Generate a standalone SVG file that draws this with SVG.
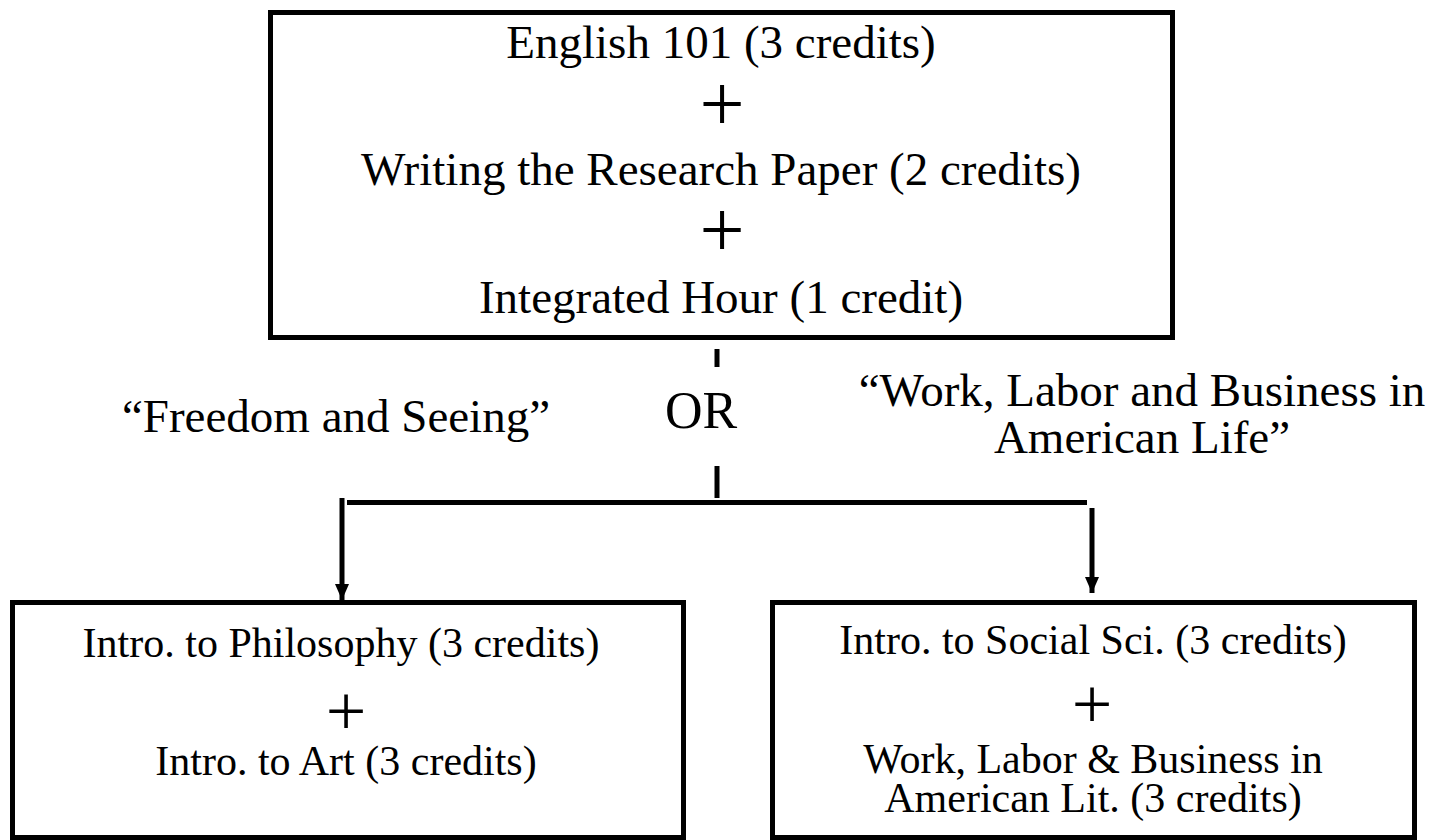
<svg xmlns="http://www.w3.org/2000/svg" width="1450" height="840" viewBox="0 0 1450 840">
<style>
.box{fill:#fff;stroke:#000;stroke-width:5}
.t{font-family:"Liberation Serif","Times New Roman",serif;fill:#000;text-anchor:middle}
.big{font-size:47px}
.sm{font-size:42px}
.plus{font-size:80px}
.plus2{font-size:72px}
.ln{stroke:#000;stroke-width:5;fill:none}
</style>
<defs>
<marker id="ah" markerWidth="16" markerHeight="14" refX="16" refY="7" orient="auto" markerUnits="userSpaceOnUse">
<path d="M0,0 L16,7 L0,14 Z" fill="#000"/>
</marker>
</defs>
<rect width="1450" height="840" fill="#fff"/>
<g id="top">
<rect class="box" x="270.5" y="12.5" width="902" height="325"/>
<text class="t big" x="721" y="58">English 101 (3 credits)</text>
<text class="t plus" x="722" y="131">+</text>
<text class="t big" x="721" y="185">Writing the Research Paper (2 credits)</text>
<text class="t plus" x="722" y="257">+</text>
<text class="t big" x="721" y="313">Integrated Hour (1 credit)</text>
</g>
<g id="label-freedom">
<text class="t big" x="336" y="432">“Freedom and Seeing”</text>
</g>
<g id="label-or">
<text class="t" x="701" y="428" font-size="52">OR</text>
</g>
<g id="label-work">
<text class="t big" x="1142" y="406">“Work, Labor and Business in</text>
<text class="t big" x="1142" y="453">American Life”</text>
</g>
<g id="left">
<rect class="box" x="12.5" y="602.5" width="671" height="235"/>
<text class="t sm" x="341" y="657">Intro. to Philosophy (3 credits)</text>
<text class="t plus2" x="346" y="735">+</text>
<text class="t sm" x="346" y="775">Intro. to Art (3 credits)</text>
</g>
<g id="right">
<rect class="box" x="772.5" y="602.5" width="642" height="235"/>
<text class="t sm" x="1093" y="654">Intro. to Social Sci. (3 credits)</text>
<text class="t plus2" x="1092" y="728">+</text>
<text class="t sm" x="1093" y="773">Work, Labor &amp; Business in</text>
<text class="t sm" x="1093" y="812">American Lit. (3 credits)</text>
</g>
<g id="connectors">
<line class="ln" x1="717" y1="349" x2="717" y2="367" stroke-width="6"/>
<line class="ln" x1="717" y1="466" x2="717" y2="498" stroke-width="6"/>
<line class="ln" x1="347" y1="502.5" x2="1087" y2="502.5"/>
<line class="ln" x1="342" y1="498" x2="342" y2="600" marker-end="url(#ah)"/>
<line class="ln" x1="1092" y1="508" x2="1092" y2="593" marker-end="url(#ah)"/>
</g>
</svg>
